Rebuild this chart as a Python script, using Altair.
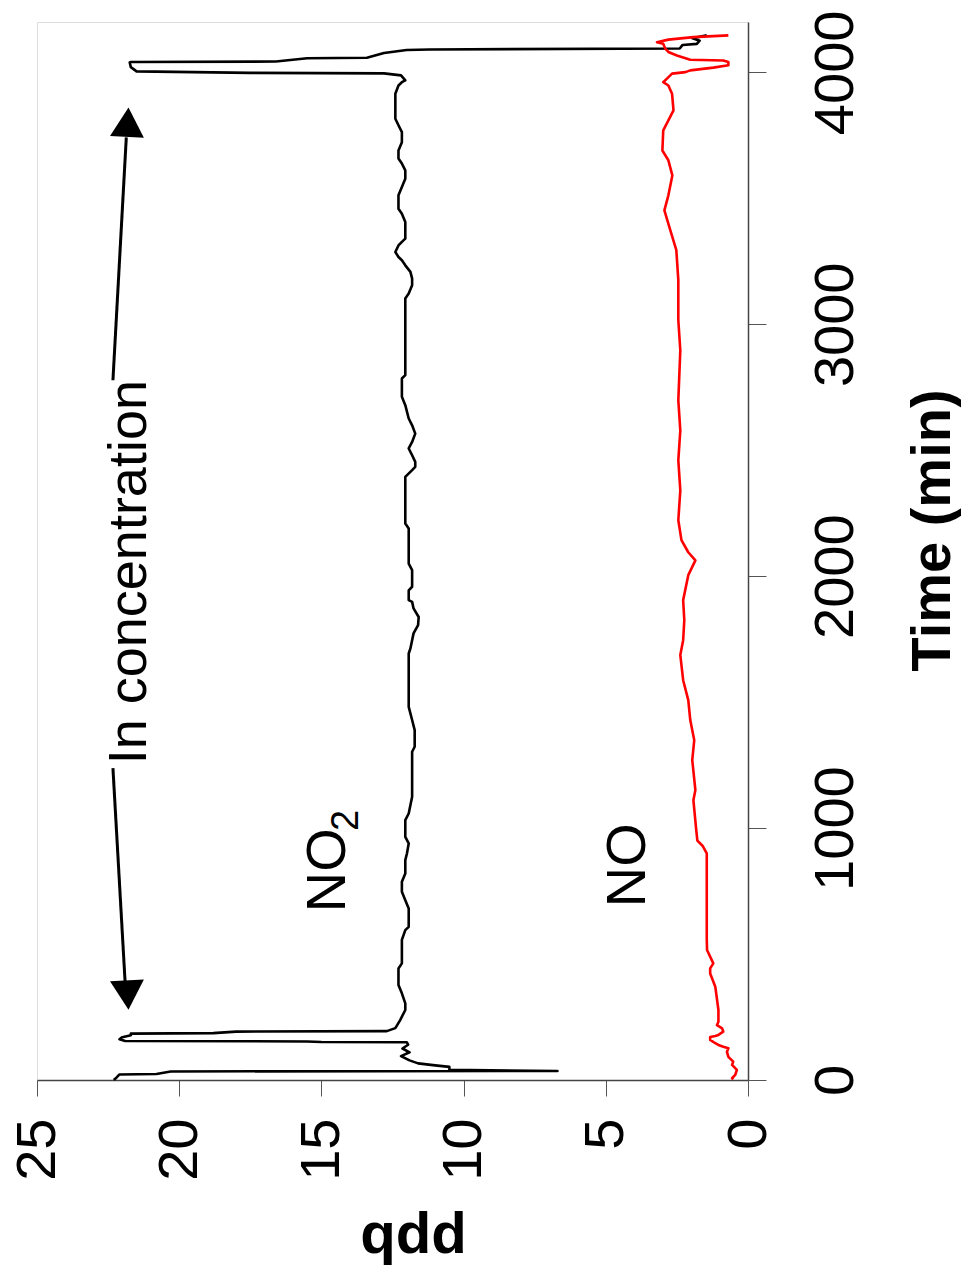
import altair as alt
import pandas as pd

# ---- data ----
no2_time = [0, 10, 22, 24, 34, 36, 40, 52, 58, 66, 78, 95, 110, 125, 140, 150, 151, 153, 155, 162, 170, 178,
            184, 186, 192, 194, 206, 238, 278, 304, 344, 377, 443, 463, 556, 595, 608, 681, 714, 747, 787, 820,
            873, 900, 939, 965, 1032, 1058, 1124, 1303, 1323, 1389, 1429, 1481, 1693, 1713, 1773, 1806, 1838,
            1872, 1898, 1905, 1944, 1958, 2024, 2050, 2189, 2209, 2394, 2421, 2434, 2454, 2480, 2507, 2533,
            2566, 2599, 2626, 2679, 2712, 2785, 2798, 3102, 3122, 3155, 3181, 3208, 3234, 3254, 3267, 3287,
            3313, 3327, 3340, 3406, 3439, 3459, 3512, 3545, 3578, 3611, 3638, 3658, 3690, 3723, 3763, 3790,
            3816, 3915, 3948, 3961, 3968, 3988, 3996, 3998, 4001, 4004, 4021, 4039, 4041, 4043, 4056, 4058,
            4077, 4089, 4091, 4095, 4109, 4113, 4126, 4135, 4147]
no2_ppb = [22.3, 22.2, 22.1, 20.8, 20.3, 6.7, 10.5, 10.5, 11.0, 11.6, 11.9, 12.2, 11.9, 12.15, 11.95, 12.0,
           15.0, 15.5, 21.9, 22.1, 22.0, 21.7, 21.7, 18.8, 18.0, 12.7, 12.4, 12.23, 12.05, 12.05, 12.17, 12.29,
           12.29, 12.17, 12.17, 12.05, 11.93, 11.93, 12.05, 12.17, 12.17, 12.05, 12.05, 11.99, 11.93, 12.05,
           12.05, 11.93, 11.81, 11.81, 11.72, 11.72, 11.81, 11.93, 11.93, 11.87, 11.76, 11.60, 11.58, 11.76,
           11.81, 11.93, 11.93, 11.81, 11.81, 11.93, 11.93, 12.05, 12.05, 11.81, 11.70, 11.70, 11.81, 11.93,
           11.81, 11.70, 11.81, 11.93, 12.05, 12.17, 12.17, 12.05, 12.05, 11.93, 11.81, 11.81, 11.87, 12.05,
           12.17, 12.29, 12.40, 12.29, 12.17, 12.05, 12.05, 12.17, 12.29, 12.29, 12.17, 12.05, 12.05, 12.17,
           12.29, 12.29, 12.17, 12.17, 12.29, 12.40, 12.40, 12.29, 12.17, 12.05, 12.2, 12.8, 17.5, 19.5, 21.5,
           21.7, 21.74, 21.7, 16.6, 15.5, 13.4, 12.8, 12.0, 11.2, 2.4, 2.3, 1.8, 1.7, 1.95, 1.45]

no_time = [2, 7, 20, 40, 60, 73, 92, 112, 126, 132, 139, 146, 159, 171, 175, 179, 192, 205, 218, 231, 278,
           370, 423, 443, 463, 516, 560, 900, 930, 950, 992, 1111, 1151, 1270, 1349, 1429, 1508, 1587, 1687,
           1746, 1825, 1905, 2004, 2063, 2095, 2143, 2222, 2341, 2460, 2579, 2698, 2897, 3016, 3175, 3294,
           3373, 3452, 3512, 3591, 3651, 3690, 3770, 3849, 3915, 3948, 3961, 3975, 3995, 4001, 4008, 4019,
           4028, 4041, 4047, 4050, 4067, 4081, 4094, 4114, 4120, 4130, 4140, 4147]
no_ppb = [0.52, 0.56, 0.45, 0.39, 0.56, 0.52, 0.69, 0.74, 0.69, 0.87, 1.04, 1.15, 1.33, 1.33, 1.15, 1.04,
          0.87, 0.91, 1.09, 1.04, 1.04, 1.15, 1.33, 1.33, 1.22, 1.44, 1.45, 1.45, 1.6, 1.78, 1.82, 1.92, 1.85,
          1.96, 1.89, 2.03, 2.10, 2.28, 2.38, 2.28, 2.24, 2.28, 2.10, 1.85, 2.10, 2.34, 2.45, 2.38, 2.45, 2.38,
          2.45, 2.38, 2.45, 2.45, 2.52, 2.73, 2.94, 2.80, 2.66, 2.80, 3.01, 2.98, 2.62, 2.67, 2.80, 2.98, 2.85,
          2.67, 2.20, 2.03, 1.22, 0.69, 0.69, 0.87, 2.03, 2.50, 2.80, 2.91, 2.98, 3.20, 2.80, 1.92, 0.69]

ppb_ticks = [0, 5, 10, 15, 20, 25]
time_ticks = [0, 1000, 2000, 3000, 4000]

# annotation texts and anchor points (in data units)
label_text = ["NO", "NO", "In concentration"]
label_ppb = [14.76, 4.21, 21.72]
label_time = [833, 853, 2016]
label_size = [56, 56, 54]
sub_text = ["2"]
sub_ppb = [14.1]
sub_time = [1030]

arrow_ppb = [21.86, 22.33]
arrow_ppb2 = [22.33, 21.9]
arrow_time = [3742, 1238]
arrow_time2 = [2778, 385]
head_ppb = [21.81, 21.81]
head_time = [3802, 337]
head_shape = ["triangle-up", "triangle-down"]

FONT = "Liberation Sans"

lines_df = pd.concat([
    pd.DataFrame({"time": no2_time, "ppb": no2_ppb, "series": "NO2"}),
    pd.DataFrame({"time": no_time, "ppb": no_ppb, "series": "NO"}),
])

xscale = alt.Scale(domain=[0, 25], reverse=True, nice=False, zero=False)
yscale = alt.Scale(domain=[0, 4200], nice=False, zero=False)

X = alt.X("ppb:Q", scale=xscale, axis=alt.Axis(
    values=ppb_ticks, format="d", title="ppb", titleFont=FONT, titleFontSize=58, titleFontWeight="bold",
    titleAngle=180, titleAlign="center", titleBaseline="alphabetic", titleX=376, titleY=142,
    labelFont=FONT, labelFontSize=56, labelAngle=270, labelAlign="right", labelBaseline="middle",
    labelPadding=22, tickSize=16, tickColor="#555555", domainColor="#444444", domainWidth=1.5,
    labelColor="black", grid=False, orient="bottom", labelFlush=False, labelOverlap=False))
Y = alt.Y("time:Q", scale=yscale, axis=alt.Axis(
    values=time_ticks, format="d", title="Time (min)", titleFont=FONT, titleFontSize=56,
    titleFontWeight="bold",
    titleAngle=270, titleAlign="center", titleBaseline="alphabetic", titleX=201, titleY=508,
    labelFont=FONT, labelFontSize=56, labelAngle=270, labelAlign="center", labelBaseline="top",
    labelPadding=42, tickSize=18, tickColor="#555555", domainColor="#444444", domainWidth=1.5,
    labelColor="black", grid=False, orient="right", labelFlush=False, labelOverlap=False))

lines = alt.Chart(lines_df).mark_line(strokeWidth=2.6, strokeJoin="round").encode(
    x=X, y=Y,
    color=alt.Color("series:N", scale=alt.Scale(domain=["NO2", "NO"], range=["black", "red"]), legend=None),
    order=alt.Order("time:Q"),
)

labels_df = pd.DataFrame({"ppb": label_ppb, "time": label_time, "text": label_text, "fs": label_size})
labels = alt.Chart(labels_df).mark_text(font=FONT, angle=270, align="center", baseline="middle",
                                        color="black").encode(
    x=X, y=Y, text="text:N", size=alt.Size("fs:Q", scale=None, legend=None))

sub_df = pd.DataFrame({"ppb": sub_ppb, "time": sub_time, "text": sub_text})
sub = alt.Chart(sub_df).mark_text(font=FONT, fontSize=38, angle=270, align="center",
                                  baseline="middle", color="black").encode(x=X, y=Y, text="text:N")

arrow_df = pd.DataFrame({"ppb": arrow_ppb, "ppb2": arrow_ppb2, "time": arrow_time, "time2": arrow_time2})
arrows = alt.Chart(arrow_df).mark_rule(strokeWidth=3, color="black").encode(
    x=X, x2="ppb2:Q", y=Y, y2="time2:Q")

head_df = pd.DataFrame({"ppb": head_ppb, "time": head_time, "shape": head_shape, "ang": [3, 357]})
heads = alt.Chart(head_df).mark_point(filled=True, size=1150, opacity=1, color="black").encode(
    x=X, y=Y, shape=alt.Shape("shape:N", scale=None), angle=alt.Angle("ang:Q", scale=None))

chart = alt.layer(lines, arrows, heads, labels, sub).properties(
    width=711, height=1058,
    autosize=alt.AutoSizeParams(type="none"),
    padding={"left": 29, "top": 14, "right": 213, "bottom": 194},
).configure_view(stroke="#808080", strokeWidth=1.5).configure(background="white")

chart.save("out.html", embed_options={"renderer": "svg", "actions": False})
